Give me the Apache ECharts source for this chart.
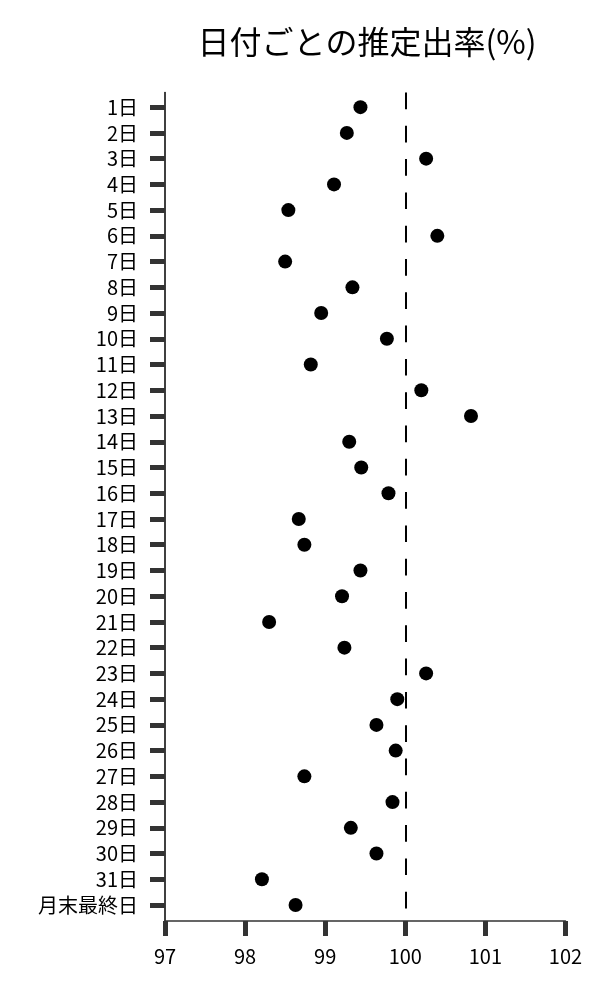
<!DOCTYPE html>
<html>
<head>
<meta charset="utf-8">
<script src="https://cdn.jsdelivr.net/npm/echarts@6/dist/echarts.min.js"></script>
<style>
html,body{margin:0;padding:0;background:#fff;}
#c{width:600px;height:1000px;}
</style>
</head>
<body>
<div id="c"></div>
<script>
const titleText = '日付ごとの推定出率(%)';
const categories = ['1日','2日','3日','4日','5日','6日','7日','8日','9日','10日','11日','12日','13日','14日','15日','16日','17日','18日','19日','20日','21日','22日','23日','24日','25日','26日','27日','28日','29日','30日','31日','月末最終日'];
const rates = [99.44,99.27,100.26,99.11,98.54,100.40,98.50,99.34,98.95,99.77,98.82,100.20,100.82,99.30,99.45,99.79,98.67,98.74,99.44,99.21,98.30,99.24,100.26,99.90,99.64,99.88,98.74,99.84,99.32,99.64,98.21,98.63];
const referenceValue = 100;
const xTicks = [97,98,99,100,101,102];

const font = '"Noto Sans CJK JP", "Noto Sans", sans-serif';
const idx = categories.map((c,i)=>i);
const chart = echarts.init(document.getElementById('c'), null, {renderer:'canvas'});
chart.setOption({
  animation:false,
  backgroundColor:'#ffffff',
  title:{
    text:titleText,
    left:362, top:21, textAlign:'center',
    textStyle:{fontFamily:font, fontSize:32, fontWeight:'normal', color:'#000'}
  },
  grid:{left:165, right:34.5, top:92.5, bottom:79, containLabel:false},
  xAxis:{
    type:'value', min:xTicks[0], max:xTicks[xTicks.length-1], interval:1,
    splitLine:{show:false},
    axisLine:{show:true, onZero:false, lineStyle:{color:'#333', width:1.5}},
    axisTick:{show:true, length:15, lineStyle:{color:'#333', width:5}},
    axisLabel:{margin:25, fontFamily:font, fontSize:20, color:'#000'}
  },
  yAxis:{
    type:'value', inverse:true, min:-0.57, max:31.62,
    axisLine:{show:true, onZero:false, lineStyle:{color:'#000', width:1.5}},
    axisTick:{show:true, length:15, customValues:idx, lineStyle:{color:'#333', width:5}},
    axisLabel:{margin:27, fontFamily:font, fontSize:20, color:'#000', customValues:idx,
      formatter:(v)=>categories[Math.round(v)]},
    splitLine:{show:false}
  },
  series:[{
    type:'scatter',
    data:rates.map((v,i)=>[v, i]),
    symbolSize:14,
    itemStyle:{color:'#000', opacity:1},
    markLine:{
      silent:true, symbol:['none','none'],
      label:{show:false},
      lineStyle:{color:'#000', width:2, type:[16.7,16.6]},
      data:[{xAxis:referenceValue}]
    }
  }]
});
</script>
</body>
</html>
